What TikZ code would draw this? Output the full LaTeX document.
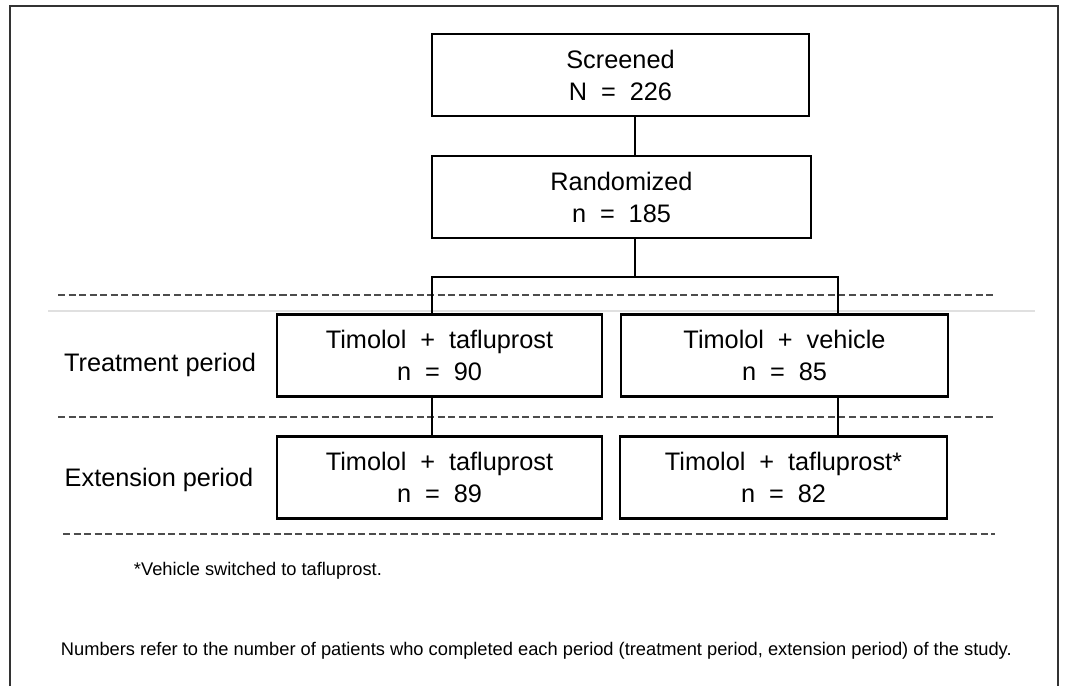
\documentclass[tikz,border=0pt]{standalone}
\usepackage{fontspec}
\setmainfont{Liberation Sans}
\usetikzlibrary{positioning,calc}
\newcommand{\boxfont}{\fontsize{18}{22.7}\selectfont\spaceskip 0.55em\relax}

\begin{document}
\begin{tikzpicture}[x=0.025cm,y=-0.025cm,
    box/.style={draw,line width=2pt,inner sep=0pt,align=center,
        minimum height=2.05cm,font=\boxfont},
    link/.style={line width=1.6pt},
    sep/.style={dashed,black!70,line width=1pt,dash pattern=on 5pt off 2.5pt},
    lbl/.style={font=\fontsize{18}{22}\selectfont},
    note/.style={anchor=base west,font=\fontsize{13}{16}\selectfont}]
    \useasboundingbox[fill=white] (0,0) rectangle (1074,686);

    % frame
    \draw[black!80,line width=0.8pt] (10,686) -- (10,6) -- (1058,6) -- (1058,686);
    \draw[black!12,line width=1.5pt] (48,311) -- (1035,311);

    % period separators
    \draw[sep] (58,295) -- (995,295);
    \draw[sep] (58,417) -- (995,417);
    \draw[sep] (63,534) -- (995,534);

    \node [box,minimum width=9.425cm] (screened) at (620.5,75) {Screened\\N = 226};
    \node [box,minimum width=9.475cm] (randomized) at (621.5,197) {Randomized\\n = 185};
    \node [box,minimum width=8.125cm] (treatA) at (439.5,355.5) {Timolol + tafluprost\\n = 90};
    \node [box,minimum width=8.175cm] (treatB) at (784.5,355.5) {Timolol + vehicle\\n = 85};
    \node [box,minimum width=8.125cm] (extA) at (439.5,477.5) {Timolol + tafluprost\\n = 89};
    \node [box,minimum width=8.175cm] (extB) at (783.5,477.5) {Timolol + tafluprost*\\n = 82};

    \node [lbl] (treatlbl) at (160,365) {Treatment period};
    \node [lbl] (extlbl) at (159,480) {Extension period};

    \coordinate (mid) at (635,277);
    \coordinate (jl) at (432,277);
    \coordinate (jr) at (838,277);

    \draw[link] (screened.south -| mid) -- (randomized.north -| mid);
    \draw[link] (randomized.south -| mid) -- (mid);
    \draw[link] (treatA.north -| jl) -- (jl) -- (jr) -- (treatB.north -| jr);
    \draw[link] (treatA.south -| jl) -- (extA.north -| jl);
    \draw[link] (treatB.south -| jr) -- (extB.north -| jr);

    \node [note] (star) at (129,575) {*Vehicle switched to tafluprost.};
    \node [note] (numbers) at (56,655) {Numbers refer to the number of patients who completed each period (treatment period, extension period) of the study.};
\end{tikzpicture}
\end{document}
